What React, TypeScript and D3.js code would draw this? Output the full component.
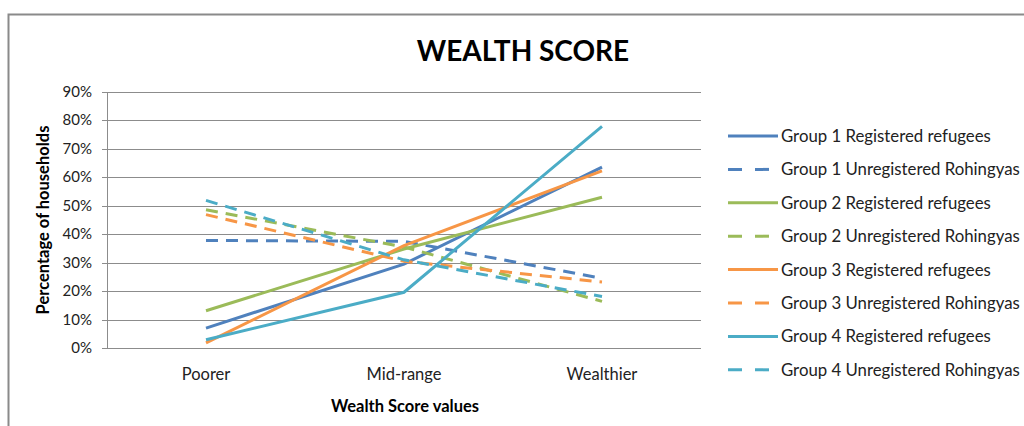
import React, { useRef, useEffect } from 'react';
import * as d3 from 'd3';

const categories = ['Poorer', 'Mid-range', 'Wealthier'];
const yTicks = [0, 10, 20, 30, 40, 50, 60, 70, 80, 90];

const seriesNames = [
  'Group 1 Registered refugees',
  'Group 1 Unregistered Rohingyas',
  'Group 2 Registered refugees',
  'Group 2 Unregistered Rohingyas',
  'Group 3 Registered refugees',
  'Group 3 Unregistered Rohingyas',
  'Group 4 Registered refugees',
  'Group 4 Unregistered Rohingyas',
];
const g1Registered = [7.0, 29.5, 63.6];
const g1Unregistered = [37.8, 37.5, 24.5];
const g2Registered = [13.1, 34.8, 53.0];
const g2Unregistered = [48.6, 35.5, 16.4];
const g3Registered = [1.8, 36.0, 62.3];
const g3Unregistered = [46.9, 30.5, 23.2];
const g4Registered = [2.9, 19.6, 77.9];
const g4Unregistered = [51.9, 31.0, 18.1];

const seriesValues = [
  g1Registered, g1Unregistered, g2Registered, g2Unregistered,
  g3Registered, g3Unregistered, g4Registered, g4Unregistered,
];
const colors = ['#4F81BD', '#4F81BD', '#9BBB59', '#9BBB59', '#F79646', '#F79646', '#4BACC6', '#4BACC6'];
const dashed = [false, true, false, true, false, true, false, true];

const W = 1024;
const H = 426;
const FONT = 'Lato, "Open Sans", sans-serif';

function App() {
  const svgRef = useRef<SVGSVGElement>(null);

  useEffect(() => {
    const svg = d3.select(svgRef.current);
    svg.selectAll('*').remove();

    // chart border
    svg.append('rect')
      .attr('x', 8.5).attr('y', 14.5)
      .attr('width', W + 20).attr('height', H + 20)
      .attr('fill', 'none').attr('stroke', '#8a8a8a').attr('stroke-width', 2);

    svg.append('text')
      .attr('x', 523).attr('y', 61)
      .attr('text-anchor', 'middle')
      .style('font-family', FONT).style('font-weight', 'bold').style('font-size', '28px')
      .text('WEALTH SCORE');

    const x = d3.scalePoint<string>().domain(categories).range([107, 701]).padding(0.5);
    const y = d3.scaleLinear().domain([0, 90]).range([348, 92]);

    // gridlines
    svg.append('g')
      .selectAll('line')
      .data(yTicks)
      .join('line')
      .attr('x1', 102).attr('x2', 701)
      .attr('y1', (d) => Math.round(y(d)) + 0.5).attr('y2', (d) => Math.round(y(d)) + 0.5)
      .attr('stroke', '#8c8c8c').attr('stroke-width', 1);

    // y axis line
    svg.append('line')
      .attr('x1', 107.5).attr('x2', 107.5)
      .attr('y1', y(90)).attr('y2', y(0) + 0.5)
      .attr('stroke', '#8c8c8c');

    svg.append('g')
      .selectAll('text')
      .data(yTicks)
      .join('text')
      .attr('x', 92).attr('y', (d) => y(d) + 5)
      .attr('text-anchor', 'end')
      .style('font-family', FONT).style('font-size', '15px').attr('fill', '#222')
      .text((d) => `${d}%`);

    svg.append('g')
      .selectAll('text')
      .data(categories)
      .join('text')
      .attr('x', (d) => x(d) as number).attr('y', 380)
      .attr('text-anchor', 'middle')
      .style('font-family', FONT).style('font-size', '16.5px').attr('fill', '#222')
      .text((d) => d);

    svg.append('text')
      .attr('x', 405).attr('y', 412)
      .attr('text-anchor', 'middle')
      .style('font-family', FONT).style('font-weight', 'bold').style('font-size', '16.5px')
      .text('Wealth Score values');

    svg.append('text')
      .attr('transform', 'translate(49,220) rotate(-90)')
      .attr('text-anchor', 'middle')
      .style('font-family', FONT).style('font-weight', 'bold').style('font-size', '16.5px')
      .text('Percentage of households');

    const line = d3.line<number>()
      .x((d, i) => x(categories[i]) as number)
      .y((d) => y(d));

    svg.append('g')
      .selectAll('path')
      .data(seriesValues)
      .join('path')
      .attr('d', (d) => line(d))
      .attr('fill', 'none')
      .attr('stroke', (d, i) => colors[i])
      .attr('stroke-width', 3)
      .attr('stroke-dasharray', (d, i) => (dashed[i] ? '12 8' : null));

    // legend
    const legend = svg.append('g')
      .selectAll('g')
      .data(seriesNames)
      .join('g')
      .attr('transform', (d, i) => `translate(0,${136 + i * 33.4})`);
    legend.append('line')
      .attr('x1', 728).attr('x2', 778)
      .attr('stroke', (d, i) => colors[i])
      .attr('stroke-width', 3)
      .attr('stroke-dasharray', (d, i) => (dashed[i] ? '14 13' : null));
    legend.append('text')
      .attr('x', 781).attr('y', 6)
      .style('font-family', FONT).style('font-size', '16.8px').attr('fill', '#222')
      .text((d) => d);
  }, []);

  return (
    <svg
      ref={svgRef}
      width={W}
      height={H}
      style={{ position: 'absolute', left: 0, top: 0, background: '#fff' }}
    />
  );
}

export default App;
